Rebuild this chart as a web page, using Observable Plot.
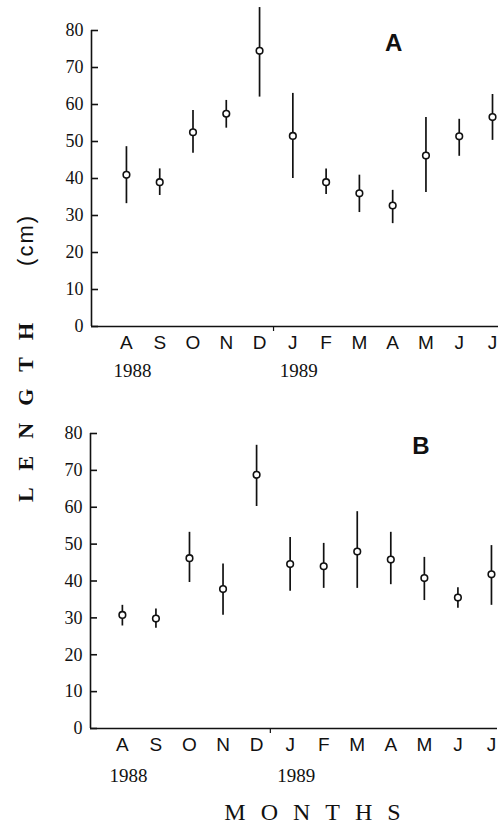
<!DOCTYPE html>
<html>
<head>
<meta charset="utf-8">
<script src="https://cdn.jsdelivr.net/npm/d3@7"></script>
<script src="https://cdn.jsdelivr.net/npm/@observablehq/plot@0.6"></script>
<style>
  html, body { margin: 0; padding: 0; background: #fff; }
  #wrap { position: relative; width: 499px; height: 827px; overflow: hidden; }
  #wrap svg { position: absolute; left: 0; }
  .ytitle {
    position: absolute; left: 26px; top: 358px;
    transform: translate(-50%, -50%) rotate(-90deg);
    white-space: nowrap; color: #111;
  }
  .ytitle .len { font-family: "Liberation Serif", serif; font-weight: bold; font-size: 22px; letter-spacing: 17px; }
  .ytitle .unit { font-family: "Liberation Sans", sans-serif; font-size: 22px; letter-spacing: 2px; margin-left: 40px; }
  .xtitle {
    position: absolute; left: 320px; top: 812px;
    transform: translate(-50%, -50%);
    font-family: "Liberation Serif", serif; font-size: 24px; letter-spacing: 15px;
    white-space: nowrap; color: #111;
  }
</style>
</head>
<body>
<div id="wrap"></div>
<script>
// ---- data ----
const months = ["A", "S", "O", "N", "D", "J", "F", "M", "A", "M", "J", "J"];
const yTicks = [0, 10, 20, 30, 40, 50, 60, 70, 80];
const years = ["1988", "1989"];
const yearIndex = [0, 5];

// Panel A (mean, low, high)
const meanA = [41, 39, 52.5, 57.5, 74.5, 51.5, 39, 36, 32.7, 46.2, 51.4, 56.6];
const lowA  = [33.2, 35.4, 46.8, 53.6, 62, 40, 35.7, 30.8, 27.8, 36.2, 46, 50.3];
const highA = [48.6, 42.6, 58.4, 61.1, 86.2, 63, 42.6, 40.9, 36.8, 56.5, 56, 62.7];

// Panel B (mean, low, high)
const meanB = [30.8, 29.8, 46.2, 37.8, 68.8, 44.6, 44, 48, 45.8, 40.8, 35.5, 41.8];
const lowB  = [27.8, 27.2, 39.6, 30.7, 60.2, 37.2, 38, 38, 39, 34.7, 32.6, 33.4];
const highB = [33.4, 32.4, 53.2, 44.6, 76.8, 51.8, 50.2, 58.8, 53.2, 46.4, 38.2, 49.6];

function rows(mean, low, high) {
  return months.map((m, i) => ({ i, m, mean: mean[i], lo: low[i], hi: high[i] }));
}
const yearRows = years.map((label, k) => ({ i: yearIndex[k], label }));

function panel({ data, label, labelX, xDomain, dividerAt, height, marginLeft, marginRight, marginTop, marginBottom, yearDy, top }) {
  const svg = Plot.plot({
    width: 499,
    height,
    marginLeft, marginRight, marginTop, marginBottom,
    style: { background: "white", color: "#111", overflow: "visible" },
    x: { type: "linear", domain: xDomain },
    y: { domain: [0, 80] },
    marks: [
      Plot.ruleY([0], { stroke: "#111", strokeWidth: 1.6 }),
      Plot.ruleX([xDomain[0]], { stroke: "#111", strokeWidth: 1.6 }),
      Plot.axisY({
        ticks: yTicks, tickSize: -7, tickPadding: 15, label: null,
        fontFamily: "Liberation Serif", fontSize: 18, strokeWidth: 1.6
      }),
      Plot.axisX({
        ticks: [dividerAt], tickSize: 5, tickFormat: () => "", label: null, strokeWidth: 1.2
      }),
      Plot.axisX({
        ticks: months.map((_, i) => i), tickSize: 0, tickPadding: 9, label: null,
        tickFormat: i => months[i], fontFamily: "Liberation Sans", fontSize: 19
      }),
      Plot.text(yearRows, {
        x: "i", text: "label", frameAnchor: "bottom", dy: yearDy, dx: -13,
        textAnchor: "start", lineAnchor: "middle",
        fontFamily: "Liberation Serif", fontSize: 19, fill: "#111"
      }),
      Plot.ruleX(data, { x: "i", y1: "lo", y2: "hi", stroke: "#111", strokeWidth: 1.7 }),
      Plot.dot(data, { x: "i", y: "mean", r: 3.3, fill: "white", stroke: "#111", strokeWidth: 1.6 }),
      Plot.text([label], {
        x: labelX, frameAnchor: "top", dy: 13, text: d => d,
        fontFamily: "Liberation Sans", fontWeight: "bold", fontSize: 24, fill: "#111",
        lineAnchor: "middle"
      })
    ]
  });
  svg.style.top = top + "px";
  return svg;
}

const wrap = document.getElementById("wrap");
wrap.appendChild(panel({
  data: rows(meanA, lowA, highA), label: "A", labelX: 8.03,
  xDomain: [-1.05, 11.18], dividerAt: 4.42,
  height: 400, marginLeft: 91, marginRight: 1, marginTop: 30, marginBottom: 74,
  yearDy: 44, top: 0
}));
wrap.appendChild(panel({
  data: rows(meanB, lowB, highB), label: "B", labelX: 8.9,
  xDomain: [-0.95, 11.18], dividerAt: 4.41,
  height: 427, marginLeft: 90, marginRight: 2, marginTop: 33, marginBottom: 99,
  yearDy: 47, top: 400
}));

const yt = document.createElement("div");
yt.className = "ytitle";
yt.innerHTML = '<span class="len">LENGTH</span><span class="unit">(cm)</span>';
wrap.appendChild(yt);

const xt = document.createElement("div");
xt.className = "xtitle";
xt.textContent = "MONTHS";
wrap.appendChild(xt);
</script>
</body>
</html>
